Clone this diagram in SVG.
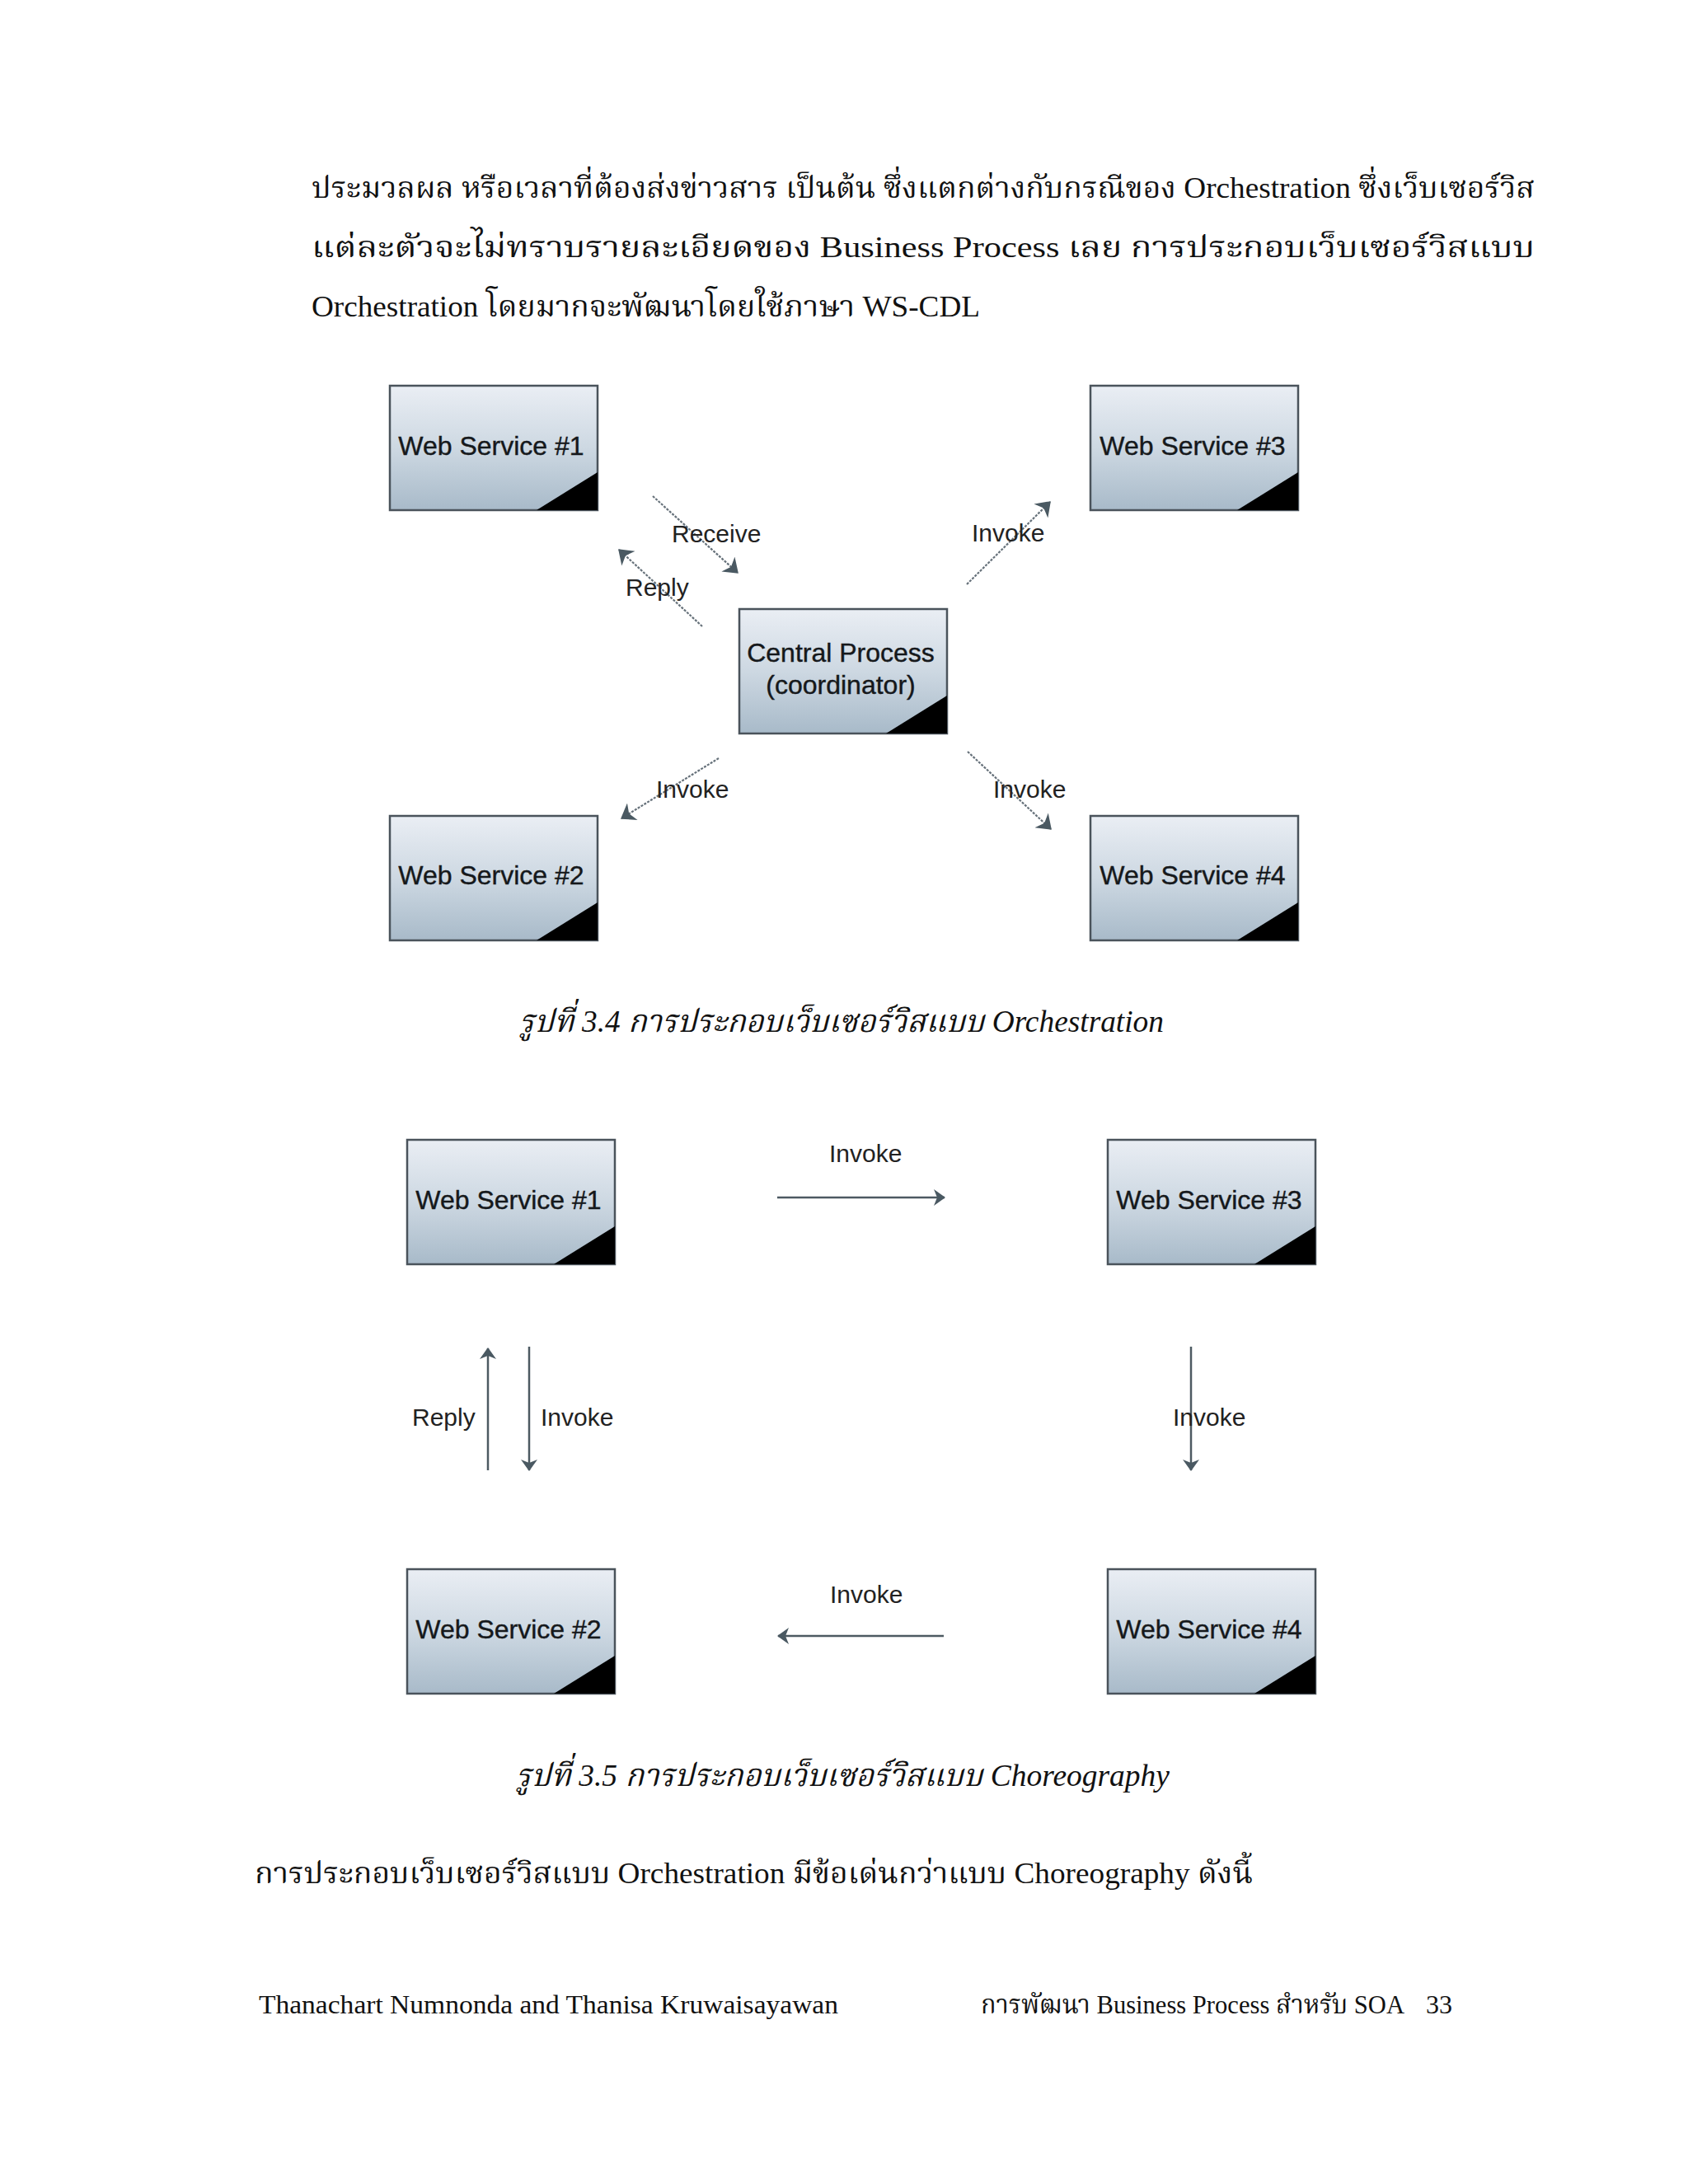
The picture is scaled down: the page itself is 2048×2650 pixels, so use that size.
<svg xmlns="http://www.w3.org/2000/svg" width="2048" height="2650" viewBox="0 0 2048 2650">
<defs>
<linearGradient id="boxg" x1="0" y1="0" x2="0" y2="1">
<stop offset="0" stop-color="#eaeef4"/>
<stop offset="0.5" stop-color="#cdd8e2"/>
<stop offset="1" stop-color="#a8bac9"/>
</linearGradient>
<marker id="ah" viewBox="0 0 14 20" refX="13" refY="10" markerWidth="14" markerHeight="20" markerUnits="userSpaceOnUse" orient="auto">
<path d="M0,0 L14,10 L0,20 L4,10 z" fill="#4a5962"/>
</marker>
<marker id="ahd" viewBox="0 0 14 20" refX="13" refY="10" markerWidth="18" markerHeight="24" markerUnits="userSpaceOnUse" orient="auto">
<path d="M0,0 L14,10 L0,20 L4,10 z" fill="#4a5962"/>
</marker>
</defs>
<style>
.box{fill:url(#boxg);stroke:#4a535b;stroke-width:2.5}
.corner{fill:#000}
.bt{font-family:Arial,"Liberation Sans",Helvetica,sans-serif;font-size:32px;fill:#15181b;text-anchor:middle;stroke:#15181b;stroke-width:0.4}
.lb{font-family:Arial,"Liberation Sans",Helvetica,sans-serif;font-size:30px;fill:#222}
.diag{stroke:#66717a;stroke-width:2.2;fill:none;stroke-dasharray:3 1.5}
.str{stroke:#4d5a62;stroke-width:2.5;fill:none}
.body{font-family:"Liberation Serif","Noto Serif Thai","Noto Sans Thai","TH Sarabun New",Garuda,Norasi,serif;font-size:36px;fill:#111}
.cap{font-family:"Liberation Serif","Noto Serif Thai","Noto Sans Thai","TH Sarabun New",Garuda,Norasi,serif;font-size:38px;font-style:italic;fill:#111}
.foot{font-family:"Liberation Serif","Noto Serif Thai","Noto Sans Thai","TH Sarabun New",Garuda,Norasi,serif;font-size:32px;fill:#111}
</style>
<rect x="0" y="0" width="2048" height="2650" fill="#ffffff"/>

<g id="paragraph">
<text class="body" x="378" y="240" textLength="1484" lengthAdjust="spacingAndGlyphs">ประมวลผล หรือเวลาที่ต้องส่งข่าวสาร เป็นต้น ซึ่งแตกต่างกับกรณีของ Orchestration ซึ่งเว็บเซอร์วิส</text>
<text class="body" x="378" y="312" textLength="1484" lengthAdjust="spacingAndGlyphs">แต่ละตัวจะไม่ทราบรายละเอียดของ Business Process เลย  การประกอบเว็บเซอร์วิสแบบ</text>
<text class="body" x="378" y="384" textLength="811" lengthAdjust="spacingAndGlyphs">Orchestration โดยมากจะพัฒนาโดยใช้ภาษา WS-CDL</text>
</g>

<!-- Figure 3.4 -->
<g id="f1-ws1">
<rect class="box" x="473" y="468" width="252" height="151"/>
<polygon class="corner" points="651,619 725,619 725,573"/>
<text class="bt" x="596" y="552">Web Service #1</text>
</g>
<g id="f1-ws3">
<rect class="box" x="1323" y="468" width="252" height="151"/>
<polygon class="corner" points="1501,619 1575,619 1575,573"/>
<text class="bt" x="1447" y="552">Web Service #3</text>
</g>
<g id="f1-central">
<rect class="box" x="897" y="739" width="252" height="151"/>
<polygon class="corner" points="1075,890 1149,890 1149,844"/>
<text class="bt" x="1020" y="803">Central Process</text>
<text class="bt" x="1020" y="842">(coordinator)</text>
</g>
<g id="f1-ws2">
<rect class="box" x="473" y="990" width="252" height="151"/>
<polygon class="corner" points="651,1141 725,1141 725,1095"/>
<text class="bt" x="596" y="1073">Web Service #2</text>
</g>
<g id="f1-ws4">
<rect class="box" x="1323" y="990" width="252" height="151"/>
<polygon class="corner" points="1501,1141 1575,1141 1575,1095"/>
<text class="bt" x="1447" y="1073">Web Service #4</text>
</g>

<g id="f1-connectors">
<line class="diag" x1="792" y1="602" x2="895" y2="695" marker-end="url(#ahd)"/>
<line class="diag" x1="852" y1="760" x2="751" y2="667" marker-end="url(#ahd)"/>
<line class="diag" x1="1173" y1="709" x2="1274" y2="609" marker-end="url(#ahd)"/>
<line class="diag" x1="872" y1="920" x2="754" y2="993" marker-end="url(#ahd)"/>
<line class="diag" x1="1174" y1="912" x2="1275" y2="1006" marker-end="url(#ahd)"/>
<text class="lb" x="815" y="658">Receive</text>
<text class="lb" x="759" y="723">Reply</text>
<text class="lb" x="1179" y="657">Invoke</text>
<text class="lb" x="796" y="968">Invoke</text>
<text class="lb" x="1205" y="968">Invoke</text>
</g>

<text class="cap" x="630" y="1252" textLength="782" lengthAdjust="spacingAndGlyphs">รูปที่ 3.4 การประกอบเว็บเซอร์วิสแบบ Orchestration</text>

<!-- Figure 3.5 -->
<g id="f2-ws1">
<rect class="box" x="494" y="1383" width="252" height="151"/>
<polygon class="corner" points="672,1534 746,1534 746,1488"/>
<text class="bt" x="617" y="1467">Web Service #1</text>
</g>
<g id="f2-ws3">
<rect class="box" x="1344" y="1383" width="252" height="151"/>
<polygon class="corner" points="1522,1534 1596,1534 1596,1488"/>
<text class="bt" x="1467" y="1467">Web Service #3</text>
</g>
<g id="f2-ws2">
<rect class="box" x="494" y="1904" width="252" height="151"/>
<polygon class="corner" points="672,2055 746,2055 746,2009"/>
<text class="bt" x="617" y="1988">Web Service #2</text>
</g>
<g id="f2-ws4">
<rect class="box" x="1344" y="1904" width="252" height="151"/>
<polygon class="corner" points="1522,2055 1596,2055 1596,2009"/>
<text class="bt" x="1467" y="1988">Web Service #4</text>
</g>

<g id="f2-connectors">
<line class="str" x1="943" y1="1453" x2="1146" y2="1453" marker-end="url(#ah)"/>
<line class="str" x1="1145" y1="1985" x2="944" y2="1985" marker-end="url(#ah)"/>
<line class="str" x1="592" y1="1784" x2="592" y2="1636" marker-end="url(#ah)"/>
<line class="str" x1="642" y1="1634" x2="642" y2="1784" marker-end="url(#ah)"/>
<line class="str" x1="1445" y1="1634" x2="1445" y2="1784" marker-end="url(#ah)"/>
<text class="lb" x="1006" y="1410">Invoke</text>
<text class="lb" x="1007" y="1945">Invoke</text>
<text class="lb" x="500" y="1730">Reply</text>
<text class="lb" x="656" y="1730">Invoke</text>
<text class="lb" x="1423" y="1730">Invoke</text>
</g>

<text class="cap" x="626" y="2167" textLength="793" lengthAdjust="spacingAndGlyphs">รูปที่ 3.5 การประกอบเว็บเซอร์วิสแบบ Choreography</text>

<text class="body" x="309" y="2285" textLength="1211" lengthAdjust="spacingAndGlyphs">การประกอบเว็บเซอร์วิสแบบ Orchestration มีข้อเด่นกว่าแบบ Choreography ดังนี้</text>

<g id="footer">
<text class="foot" x="314" y="2443" textLength="703" lengthAdjust="spacingAndGlyphs">Thanachart Numnonda and Thanisa Kruwaisayawan</text>
<text class="foot" x="1190" y="2443" textLength="514" lengthAdjust="spacingAndGlyphs">การพัฒนา Business Process สำหรับ SOA</text>
<text class="foot" x="1730" y="2443" textLength="32" lengthAdjust="spacingAndGlyphs">33</text>
</g>
</svg>
